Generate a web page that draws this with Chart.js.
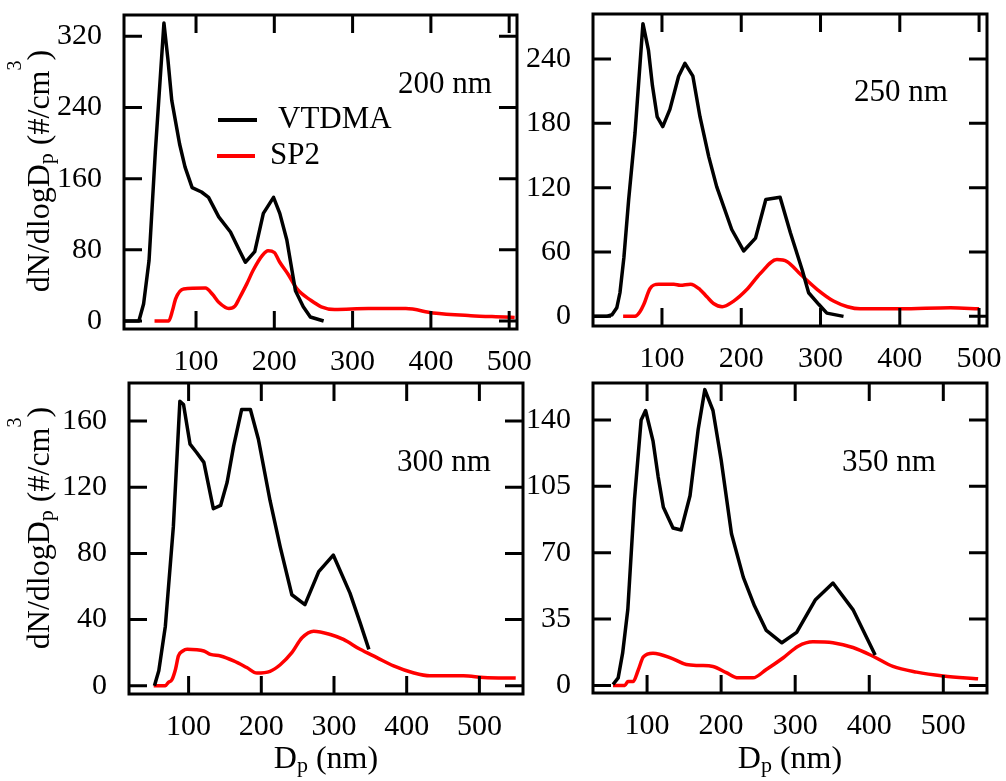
<!DOCTYPE html>
<html>
<head>
<meta charset="utf-8">
<script src="https://cdn.jsdelivr.net/npm/chart.js@4.4.1/dist/chart.umd.min.js"></script>
<style>
  body { margin: 0; background: #fff; }
  #page { position: relative; width: 1006px; height: 781px; overflow: hidden; font-family: "Liberation Serif", "Times New Roman", serif; color: #000; }
  #page canvas { position: absolute; left: 0; top: 0; }
  .lbl { position: absolute; font-size: 31px; line-height: 1; white-space: nowrap; }
  .ytitle { position: absolute; font-size: 32px; line-height: 1; white-space: nowrap; transform: translate(-50%, -50%) rotate(-90deg); }
  .xtitle { position: absolute; font-size: 32px; line-height: 1; white-space: nowrap; transform: translateX(-50%); }
  .sub { font-size: 22px; position: relative; top: 4px; }
  .sup { font-size: 20px; position: relative; top: -28px; }
  .key { position: absolute; height: 4px; }
</style>
</head>
<body>
<div id="page">
  <canvas id="p200" width="1006" height="781"></canvas>
  <canvas id="p250" width="1006" height="781"></canvas>
  <canvas id="p300" width="1006" height="781"></canvas>
  <canvas id="p350" width="1006" height="781"></canvas>

  <div class="ytitle" style="left:38px; top:171px;">dN/dlogD<span class="sub">p</span> (#/cm<span class="sup">3</span>)</div>
  <div class="ytitle" style="left:38px; top:528px;">dN/dlogD<span class="sub">p</span> (#/cm<span class="sup">3</span>)</div>
  <div class="xtitle" style="left:326px; top:741px;">D<span class="sub">p</span> (nm)</div>
  <div class="xtitle" style="left:790px; top:741px;">D<span class="sub">p</span> (nm)</div>

  <div class="lbl" style="left:398px; top:67px;">200 nm</div>
  <div class="lbl" style="left:854px; top:75px;">250 nm</div>
  <div class="lbl" style="left:397px; top:445px;">300 nm</div>
  <div class="lbl" style="left:842px; top:445px;">350 nm</div>

  <div class="key" style="left:218px; top:118px; width:39px; background:#000;"></div>
  <div class="lbl" style="left:278px; top:102px;">VTDMA</div>
  <div class="key" style="left:217px; top:154px; width:38px; background:#ff0000;"></div>
  <div class="lbl" style="left:270px; top:138px;">SP2</div>
</div>

<script>
// tick labels
const xTicks = [100, 200, 300, 400, 500];
const yTicks200 = [0, 80, 160, 240, 320];
const yTicks250 = [0, 60, 120, 180, 240];
const yTicks300 = [0, 40, 80, 120, 160];
const yTicks350 = [0, 35, 70, 105, 140];

// [Dp (nm), dN/dlogDp]
const vtdma200 = [[8,0],[27,0],[33,19],[40,68],[48,190],[59,335],[64,295],[69,248],[79,199],[86,173],[95,150],[107,145],[116,139],[129,117],[144,100],[155,80],[163,66],[175,78],[186,121],[199,139],[207,121],[216,91],[227,34],[237,16],[246,4.5],[263,0]];
const sp2_200 = [[47,0],[65,0],[70,12],[74,25],[84,36],[112,37],[121,30],[129,21],[142,14],[150,17],[155,25],[165,42],[173,57],[185,74],[192,79],[200,77],[207,66],[218,52],[229,36],[247,23],[260,16],[277,13],[320,14],[368,14],[403,9],[451,6],[494,4.5],[507,4]];

const vtdma250 = [[13,0],[30,0],[37,1.5],[43,8],[47,22],[52,55],[58,109],[66,171],[76,273],[83,248],[88,215],[94,186],[101,177],[110,193],[121,224],[129,236],[139,224],[148,186],[159,149],[169,121],[188,81],[203,61],[218,73],[231,109],[249,111],[262,78],[277,43],[285,22],[298,11],[308,3],[329,0]];
const sp2_250 = [[51,0],[66,0],[72,4],[77,11],[85,26],[96,30],[115,30],[123,29],[136,30],[148,25],[157,18],[165,12],[176,9],[190,14],[207,25],[224,40],[245,53],[258,51],[275,39],[296,25],[317,14],[334,9],[350,7],[401,7],[464,8],[500,7]];

const vtdma300 = [[53,0],[59,9],[68,36],[79,96],[88,172],[93,170],[102,146],[111,141],[121,135],[134,107],[144,109],[153,123],[162,145],[173,167],[185,167],[196,149],[212,112],[226,84],[242,55],[260,49],[279,69],[299,79],[322,56],[336,38],[348,22]];
const sp2_300 = [[52,0],[68,0],[72,2],[77,3.6],[82,10],[86,18],[92,21],[98,22],[121,21],[130,19],[144,18],[162,15],[180,11],[194,7.7],[212,8.7],[226,12.7],[242,20],[256,29],[272,33],[295,31],[313,28],[336,22],[359,17],[382,12],[410,7.7],[432,6],[478,6],[506,5],[550,4.6]];

const vtdma350 = [[54,0.5],[61,4],[67,17],[74,40],[83,98],[92,140],[98,145],[108,129],[115,110],[122,94],[135,83],[146,82],[158,100],[169,135],[178,156],[189,145],[200,119],[214,80],[230,57],[245,42],[261,29],[282,22.5],[302,28],[327,45],[351,54],[378,40],[408,16]];
const sp2_350 = [[54,0],[70,0],[74,2],[81,2],[88,8],[95,15],[108,17],[135,14],[153,11],[171,10.5],[189,10],[207,6.7],[223,4],[243,4],[261,8.4],[284,14.6],[304,20.7],[324,23],[351,22.5],[378,20],[405,15.4],[432,10],[464,7],[500,5],[547,3.5]];

const PAGE_W = 1006, PAGE_H = 781;
const Y_AXIS_W = 80, X_AXIS_H = 50;
const TICK_LEN = 18;
const tickFont = { family: "'Liberation Serif', 'Times New Roman', serif", size: 30 };

// boxed frame with inward ticks on all four sides
const frameTicks = {
    id: 'frameTicks',
    afterDatasetsDraw(chart) {
        const { ctx, chartArea: a, scales: { x, y } } = chart;
        ctx.save();
        ctx.strokeStyle = '#000';
        ctx.lineWidth = 3;
        ctx.beginPath();
        x.ticks.forEach(t => {
            const px = x.getPixelForValue(t.value);
            ctx.moveTo(px, a.bottom); ctx.lineTo(px, a.bottom - TICK_LEN);
            ctx.moveTo(px, a.top); ctx.lineTo(px, a.top + TICK_LEN);
        });
        y.ticks.forEach(t => {
            const py = y.getPixelForValue(t.value);
            ctx.moveTo(a.left, py); ctx.lineTo(a.left + TICK_LEN, py);
            ctx.moveTo(a.right, py); ctx.lineTo(a.right - TICK_LEN, py);
        });
        ctx.stroke();
        ctx.strokeRect(a.left, a.top, a.right - a.left, a.bottom - a.top);
        ctx.restore();
    }
};

function makePanel(id, frame, xRange, yRange, yTicks, vtdma, sp2) {
    return new Chart(document.getElementById(id), {
        type: 'line',
        data: {
            datasets: [
                {
                    label: 'VTDMA',
                    data: vtdma,
                    borderColor: '#000',
                    borderWidth: 3.5,
                    borderJoinStyle: 'round',
                    pointRadius: 0,
                    tension: 0,
                    fill: false
                },
                {
                    label: 'SP2',
                    data: sp2,
                    borderColor: '#ff0000',
                    borderWidth: 3.5,
                    borderJoinStyle: 'round',
                    pointRadius: 0,
                    cubicInterpolationMode: 'monotone',
                    fill: false
                }
            ]
        },
        options: {
            responsive: false,
            animation: false,
            events: [],
            layout: {
                padding: {
                    left: frame.l - Y_AXIS_W,
                    top: frame.t,
                    right: PAGE_W - frame.r,
                    bottom: PAGE_H - frame.b - X_AXIS_H
                }
            },
            plugins: {
                legend: { display: false },
                tooltip: { enabled: false }
            },
            scales: {
                x: {
                    type: 'linear',
                    min: xRange[0],
                    max: xRange[1],
                    grid: { display: false },
                    border: { display: false },
                    afterBuildTicks: s => { s.ticks = xTicks.map(v => ({ value: v })); },
                    afterFit: s => { s.height = X_AXIS_H; s.paddingLeft = 0; s.paddingRight = 0; },
                    ticks: { font: tickFont, color: '#000', padding: 7, maxRotation: 0, autoSkip: false }
                },
                y: {
                    min: yRange[0],
                    max: yRange[1],
                    grid: { display: false },
                    border: { display: false },
                    afterBuildTicks: s => { s.ticks = yTicks.map(v => ({ value: v })); },
                    afterFit: s => { s.width = Y_AXIS_W; s.paddingTop = 0; s.paddingBottom = 0; },
                    ticks: { font: tickFont, color: '#000', padding: 14 }
                }
            }
        },
        plugins: [frameTicks]
    });
}

makePanel('p200', { l: 124, r: 517, t: 15, b: 329 }, [8, 510], [-9, 344], yTicks200, vtdma200, sp2_200);
makePanel('p250', { l: 593, r: 987, t: 14, b: 326 }, [13, 510], [-9, 282], yTicks250, vtdma250, sp2_250);
makePanel('p300', { l: 129, r: 523, t: 383, b: 694 }, [18, 560], [-5, 183], yTicks300, vtdma300, sp2_300);
makePanel('p350', { l: 593, r: 987, t: 383, b: 693 }, [27, 559], [-4, 159.5], yTicks350, vtdma350, sp2_350);
</script>
</body>
</html>
